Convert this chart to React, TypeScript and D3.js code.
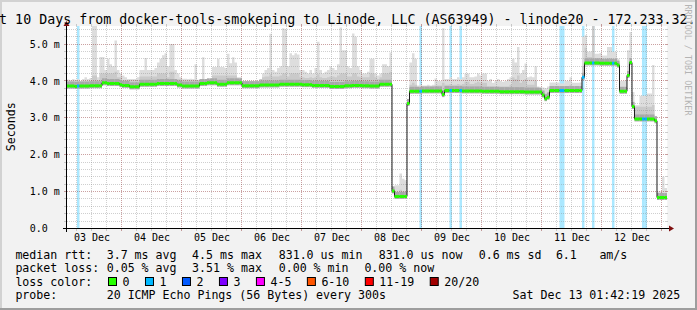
import React from "react";
import * as d3 from "d3";

// ---------- data ----------
const titleText = "t 10 Days from docker-tools-smokeping to Linode, LLC (AS63949) - linode20 - 172.233.32.";
const yAxisTitle = "Seconds";
const watermark = "RRDTOOL / TOBI OETIKER";

const startTime = Date.UTC(2025, 11, 3, 1, 42, 19);
const endTime = Date.UTC(2025, 11, 13, 1, 42, 19);
const firstBinTime = Date.UTC(2025, 11, 3, 0, 0, 0); // hourly bins

const dayLabels = ["03 Dec", "04 Dec", "05 Dec", "06 Dec", "07 Dec", "08 Dec", "09 Dec", "10 Dec", "11 Dec", "12 Dec"];
const yTickValues = [0, 1, 2, 3, 4, 5];
const yTickLabels = ["0.0", "1.0 m", "2.0 m", "3.0 m", "4.0 m", "5.0 m"];

// median RTT per hour (ms), one row per day
const medianMs = [
  3.86,3.86,3.86,3.86,3.86,3.85,3.86,3.86,3.86,3.86,3.86,3.87,3.87,3.87,3.87,3.87,3.95,3.95,3.93,3.93,3.93,3.93,3.93,3.90,
  3.88,3.88,3.88,3.84,3.84,3.84,3.84,3.91,3.91,3.91,3.91,3.91,3.91,3.91,3.93,3.93,3.93,3.93,3.93,3.93,3.93,3.93,3.89,3.89,
  3.86,3.86,3.86,3.86,3.86,3.86,3.86,3.93,3.93,3.93,3.95,3.95,3.95,3.95,3.91,3.91,3.91,3.91,3.95,3.95,3.95,3.95,3.95,3.95,
  3.87,3.87,3.87,3.87,3.87,3.87,3.87,3.89,3.89,3.89,3.89,3.89,3.89,3.89,3.89,3.91,3.91,3.91,3.91,3.91,3.91,3.91,3.91,3.91,
  3.90,3.90,3.90,3.90,3.88,3.88,3.88,3.88,3.88,3.88,3.88,3.85,3.85,3.85,3.85,3.85,3.85,3.87,3.87,3.87,3.88,3.88,3.88,3.88,
  3.87,3.87,3.87,3.86,3.86,3.86,3.86,3.91,3.91,3.91,3.91,3.91,1.02,0.87,0.87,0.87,0.87,0.87,3.39,3.72,3.72,3.72,3.72,3.72,
  3.73,3.73,3.73,3.73,3.73,3.73,3.73,3.73,3.63,3.74,3.74,3.74,3.74,3.74,3.74,3.74,3.73,3.73,3.73,3.73,3.73,3.73,3.73,3.73,
  3.72,3.72,3.72,3.72,3.72,3.72,3.72,3.71,3.71,3.71,3.71,3.71,3.71,3.71,3.71,3.71,3.71,3.70,3.70,3.70,3.70,3.70,3.70,3.70,
  3.62,3.52,3.56,3.74,3.74,3.74,3.74,3.74,3.74,3.74,3.74,3.74,3.74,3.74,3.74,3.74,4.10,4.49,4.49,4.49,4.49,4.49,4.49,4.48,
  4.48,4.48,4.48,4.48,4.48,4.48,4.43,3.72,3.72,3.72,4.15,4.50,3.31,2.97,2.97,2.97,2.97,2.97,2.97,2.97,2.97,2.92,0.84,0.84,
  0.84,0.84,
];

// upper edge of the dense (middle) smoke per hour (ms)
const smokeMidMs = [
  4.00,4.00,4.00,4.00,4.00,4.00,4.00,4.00,4.00,4.00,4.00,4.00,4.15,4.15,4.02,4.20,4.20,4.20,4.20,4.20,4.20,4.25,4.10,4.10,
  4.02,4.02,4.02,4.02,4.02,4.02,4.02,4.12,4.12,4.12,4.12,4.12,4.12,4.12,4.20,4.20,4.20,4.20,4.10,4.25,4.25,4.05,4.05,4.05,
  4.02,4.02,4.02,4.02,4.02,4.02,4.02,4.02,4.02,4.02,4.02,4.02,4.15,4.15,4.15,4.15,4.15,4.15,4.15,4.15,4.15,4.15,4.05,4.05,
  4.00,4.00,4.00,4.00,4.00,4.00,4.00,4.05,4.10,4.12,4.12,4.18,4.12,4.12,4.12,4.15,4.20,4.20,4.12,4.20,4.20,4.20,4.20,4.10,
  4.10,4.08,4.08,4.10,4.08,4.10,4.18,4.10,4.08,4.08,4.10,4.12,4.12,4.10,4.15,4.20,4.20,4.20,4.12,4.12,4.20,4.20,4.12,4.10,
  4.10,4.10,4.10,4.20,4.20,4.10,4.05,4.10,4.20,4.20,4.20,4.25,1.08,0.97,0.97,1.05,1.00,1.00,3.45,3.90,3.95,3.90,3.80,3.80,
  3.82,3.82,3.84,3.82,3.84,3.88,3.88,3.88,3.95,3.90,3.90,3.92,3.90,3.90,3.92,3.90,3.92,3.98,3.98,3.92,3.92,3.95,3.98,3.95,
  3.95,3.95,3.85,3.85,3.85,3.85,3.85,3.85,3.85,3.85,3.85,3.90,4.10,4.05,4.15,3.95,4.00,4.05,3.90,3.90,3.90,4.00,3.78,3.76,
  3.72,3.66,3.70,3.85,3.85,3.85,3.85,3.83,3.83,3.86,3.86,3.90,3.84,3.84,3.84,3.85,4.40,4.90,4.65,4.65,5.60,4.62,4.62,4.62,
  4.60,4.60,4.62,4.62,4.60,4.60,4.52,3.82,3.82,3.82,4.25,4.60,3.40,3.30,3.30,3.30,3.30,3.30,3.30,3.30,3.35,3.00,0.92,0.92,
  0.95,0.92,
];

// highest ping per hour (ms)
const smokeMaxMs = [
  4.04,4.04,4.04,4.02,4.05,4.03,4.05,4.00,4.05,4.10,4.05,4.08,5.60,5.60,4.10,4.65,4.65,4.30,4.60,4.45,4.40,5.10,4.30,4.20,
  4.15,4.10,4.05,4.05,4.05,4.05,4.10,4.30,4.30,4.62,4.30,4.30,4.30,4.35,4.50,4.60,4.70,4.75,4.40,5.00,5.00,4.30,4.20,4.10,
  4.06,4.06,4.05,4.06,4.05,4.45,4.03,4.03,4.64,4.03,4.04,4.05,4.38,4.38,4.60,4.38,4.38,4.35,4.74,4.48,4.64,4.50,4.10,4.10,
  3.98,3.98,3.98,3.99,3.98,3.98,3.98,4.05,4.20,4.30,4.35,5.28,4.30,4.25,4.35,4.40,5.43,5.40,4.40,4.75,4.70,4.75,4.72,4.30,
  4.30,4.25,4.20,4.30,4.20,4.35,5.06,4.30,4.20,4.25,4.30,4.40,4.35,4.30,4.45,5.45,4.83,4.83,4.40,4.35,5.29,5.20,4.40,4.30,
  4.20,4.20,4.25,4.60,4.60,4.20,4.15,4.20,4.45,4.45,4.40,4.77,1.13,1.17,1.17,1.49,1.35,1.31,3.50,4.50,4.75,4.60,3.88,3.90,
  3.88,3.88,3.90,3.88,3.90,4.07,4.00,4.00,5.43,4.05,4.05,4.10,4.05,4.05,4.10,4.05,4.10,4.20,4.20,4.10,4.10,4.12,4.20,4.15,
  4.20,4.20,4.00,4.05,3.95,4.00,4.05,4.00,3.98,4.00,4.05,4.10,4.60,4.50,4.92,4.20,4.30,4.47,4.10,4.12,4.10,4.40,3.85,3.80,
  3.82,3.80,3.85,3.96,3.96,3.96,3.96,3.93,3.93,4.00,4.00,4.10,3.95,3.95,3.95,3.96,5.20,5.24,4.79,4.80,5.60,4.74,4.74,4.76,
  4.69,4.69,4.92,4.92,4.79,4.79,4.60,4.00,4.00,4.02,4.83,5.33,3.70,3.34,3.34,3.60,3.60,3.60,3.66,3.66,4.43,3.05,1.00,1.00,
  1.40,1.10,
];

// hours (bin index) with lost pings, and how many were lost
const lossBins = [6, 143, 155, 159, 199, 200, 208, 212, 220, 232, 233];
const lossCounts = [1, 1, 1, 1, 1, 1, 1, 1, 1, 1, 1];

const lossLabels = ["0", "1", "2", "3", "4-5", "6-10", "11-19", "20/20"];
const lossColors = ["#26ff00", "#00b8ff", "#0059ff", "#7e00ff", "#ff00ff", "#ff5500", "#ff0000", "#a10000"];

const rttLabel = "median rtt:";
const rttItems = ["3.7 ms avg", "4.5 ms max", "831.0 us min", "831.0 us now", "0.6 ms sd", "6.1", "am/s"];
const lossLabel = "packet loss:";
const lossItems = ["0.05 % avg", "3.51 % max", "0.00 % min", "0.00 % now"];
const lossColorLabel = "loss color:";
const probeLabel = "probe:";
const probeText = "20 ICMP Echo Pings (56 Bytes) every 300s";
const stampText = "Sat Dec 13 01:42:19 2025";

// ---------- layout ----------
const W = 697, H = 310;
const X0 = 66.25, X1 = 666.25, YT = 26, YB = 228.5;
const MONO = "'DejaVu Sans Mono', monospace";
const LF = 11.6; // legend font px
const CW = LF * 0.602;
const rttX = [107.3, 192.7, 279.3, 379.3, 479.3, 556.5, 600];
const lossX = [107.3, 192.7, 279.3, 365];
const row = [258.5, 272, 285.5, 299];

const HOUR = 3600e3;
const binTime = (i: number) => firstBinTime + i * HOUR;
const lossColorFor = (n: number) => {
  if (n <= 0) return lossColors[0];
  if (n <= 3) return lossColors[n];
  if (n <= 5) return lossColors[4];
  if (n <= 10) return lossColors[5];
  if (n <= 19) return lossColors[6];
  return lossColors[7];
};

export default function App() {
  const x = d3.scaleUtc().domain([new Date(startTime), new Date(endTime)]).range([X0, X1]);
  const y = d3.scaleLinear().domain([0, 5.49]).range([YB, YT]);
  const px = (v: number) => Math.round(v - 0.5) + 0.5;

  type P = { t: number; m: number; mid: number; hi: number };
  const pts: P[] = medianMs.map((m, i) => ({ t: binTime(i), m, mid: smokeMidMs[i], hi: smokeMaxMs[i] }));
  const lastI = medianMs.length - 1;
  pts.push({ t: binTime(medianMs.length), m: medianMs[lastI], mid: smokeMidMs[lastI], hi: smokeMaxMs[lastI] });

  const hiArea = d3.area<P>().x(d => x(d.t)).y0(d => y(d.m)).y1(d => y(d.hi)).curve(d3.curveStepAfter)(pts) || "";
  const midArea = d3.area<P>().x(d => x(d.t)).y0(d => y(d.m)).y1(d => y(d.mid)).curve(d3.curveStepAfter)(pts) || "";
  const stepLine = d3.line<P>().x(d => x(d.t)).y(d => y(d.m)).curve(d3.curveStepAfter)(pts) || "";

  const lossMap = new Map<number, number>();
  lossBins.forEach((b, k) => lossMap.set(b, lossCounts[k]));

  const majorX = d3.utcDay.range(new Date(startTime), new Date(endTime));
  const minorX = d3.utcHour.every(6)!.range(new Date(startTime), new Date(endTime)).filter(d => d.getUTCHours() !== 0);
  const minorY = d3.range(1, 28).map(k => k * 0.2).filter(v => Math.abs(v - Math.round(v)) > 1e-6 && y(v) > YT);
  const majorY = [1, 2, 3, 4, 5];

  const gridMinor = "rgba(140,140,140,0.42)";
  const gridMajor = "rgba(130,30,30,0.42)";

  // loss legend layout
  const boxes: { x: number; label: string; color: string }[] = [];
  let bx = 108.5;
  lossLabels.forEach((lab, k) => {
    boxes.push({ x: bx, label: lab, color: lossColors[k] });
    bx = bx + 15 + lab.length * CW + 15;
  });

  return (
    <svg width={W} height={H} viewBox={`0 0 ${W} ${H}`}
      style={{ position: "absolute", left: 0, top: 0, display: "block" }}
      fontFamily={MONO}>
      <defs>
        <clipPath id="plotClip">
          <rect x={X0} y={YT} width={X1 - X0 + 1} height={YB - YT} />
        </clipPath>
      </defs>
      {/* background and 3D frame */}
      <rect x={0} y={0} width={W} height={H} fill="#f2f2f2" />
      <rect x={0} y={0} width={W} height={2} fill="#d2d2d2" />
      <rect x={0} y={0} width={2} height={H} fill="#d2d2d2" />
      <rect x={0} y={H - 2} width={W} height={2} fill="#9e9e9e" />
      <rect x={W - 2} y={0} width={2} height={H} fill="#9e9e9e" />

      {/* canvas */}
      <rect x={X0} y={YT} width={X1 - X0 + 1} height={YB - YT} fill="#ffffff" />

      <g clipPath="url(#plotClip)">
        {/* loss background bars */}
        {lossBins.map((b, k) => (
          <rect key={"lb" + k} x={x(binTime(b))} y={YT} width={x(binTime(b + 1)) - x(binTime(b))}
            height={YB - YT} fill={lossColorFor(lossCounts[k])} opacity={0.33} />
        ))}
        {/* smoke */}
        <path d={hiArea} fill="#dddddd" />
        <path d={midArea} fill="#cacaca" />
      </g>

      {/* grid */}
      <g strokeWidth={1} shapeRendering="crispEdges">
        {minorY.map((v, k) => {
          const yy = px(y(v));
          return (
            <g key={"my" + k}>
              <line x1={X0 + 1} x2={X1} y1={yy} y2={yy} stroke={gridMinor} strokeDasharray="1,1" />
              <line x1={X0 - 2.5} x2={X0} y1={yy} y2={yy} stroke={gridMinor} />
              <line x1={X1} x2={X1 + 2} y1={yy} y2={yy} stroke={gridMinor} />
            </g>
          );
        })}
        {minorX.map((d, k) => {
          const xx = px(x(d));
          return (
            <g key={"mx" + k}>
              <line x1={xx} x2={xx} y1={YT} y2={YB} stroke={gridMinor} strokeDasharray="1,1" />
              <line x1={xx} x2={xx} y1={YT - 2} y2={YT} stroke={gridMinor} />
              <line x1={xx} x2={xx} y1={YB} y2={YB + 2.5} stroke={gridMinor} />
            </g>
          );
        })}
        {majorY.map((v, k) => {
          const yy = px(y(v));
          return (
            <g key={"My" + k}>
              <line x1={X0 + 1} x2={X1} y1={yy} y2={yy} stroke={gridMajor} strokeDasharray="1,1" />
              <line x1={X0 - 2.5} x2={X0} y1={yy} y2={yy} stroke={gridMajor} />
              <line x1={X1} x2={X1 + 2} y1={yy} y2={yy} stroke={gridMajor} />
            </g>
          );
        })}
        {majorX.map((d, k) => {
          const xx = px(x(d));
          return (
            <g key={"Mx" + k}>
              <line x1={xx} x2={xx} y1={YT} y2={YB} stroke={gridMajor} strokeDasharray="1,1" />
              <line x1={xx} x2={xx} y1={YT - 2} y2={YT} stroke={gridMajor} />
              <line x1={xx} x2={xx} y1={YB} y2={YB + 2.5} stroke={gridMajor} />
            </g>
          );
        })}
      </g>

      <g clipPath="url(#plotClip)">
        {/* dense smoke around the median */}
        {medianMs.map((m, i) => (
          <rect key={"bd" + i} x={x(binTime(i))} y={y(m) - 4.5}
            width={x(binTime(i + 1)) - x(binTime(i))} height={7} fill="#a8a8a8" />
        ))}
        {/* thin median step line */}
        <path d={stepLine} fill="none" stroke="#1a1a1a" strokeWidth={1} />
        {/* median colored by loss */}
        {medianMs.map((m, i) => (
          <line key={"md" + i} x1={x(binTime(i))} x2={x(binTime(i + 1))} y1={y(m)} y2={y(m)}
            stroke={lossColorFor(lossMap.get(i) || 0)} strokeWidth={3} />
        ))}
      </g>

      {/* axes */}
      <line x1={63} x2={669.5} y1={YB} y2={YB} stroke="#000" strokeWidth={1} shapeRendering="crispEdges" />
      <line x1={66.5} x2={66.5} y1={231.5} y2={25} stroke="#000" strokeWidth={1} shapeRendering="crispEdges" />
      <polygon points={`669,225.5 674,228.5 669,231.5`} fill="#7f1010" />
      <polygon points={`63.5,26 66.5,21 69.5,26`} fill="#7f1010" />

      {/* y tick labels */}
      {yTickValues.map((v, k) => (
        <text key={"yl" + k} x={29.7} y={y(v) + 3.6} fontSize={10} fill="#000">{yTickLabels[k]}</text>
      ))}
      {/* x tick labels, centered at noon */}
      {dayLabels.map((lab, k) => (
        <text key={"xl" + k} x={x(new Date(Date.UTC(2025, 11, 3 + k, 12)))} y={240.6} fontSize={10}
          textAnchor="middle" fill="#000">{lab}</text>
      ))}

      {/* title */}
      <text x={-0.9} y={23.5} fontSize={13.3} fill="#000" style={{ whiteSpace: "pre" }}>{titleText}</text>
      {/* y axis title */}
      <text transform="translate(15,126.7) rotate(-90)" fontSize={LF} textAnchor="middle" fill="#000">{yAxisTitle}</text>
      {/* watermark */}
      <text transform="translate(685.3,4.5) rotate(90)" fontSize={8.4} fill="#b4b4b4">{watermark}</text>

      {/* legend */}
      <g fontSize={LF} fill="#000" style={{ whiteSpace: "pre" }}>
        <text x={15.4} y={row[0]}>{rttLabel}</text>
        {rttItems.map((s, k) => <text key={"r" + k} x={rttX[k] - 0.6} y={row[0]}>{s}</text>)}
        <text x={15.4} y={row[1]}>{lossLabel}</text>
        {lossItems.map((s, k) => <text key={"l" + k} x={lossX[k] - 0.6} y={row[1]}>{s}</text>)}
        <text x={15.4} y={row[2]}>{lossColorLabel}</text>
        {boxes.map((b, k) => (
          <g key={"bx" + k}>
            <rect x={b.x} y={277.5} width={8} height={8} fill={b.color} stroke="#000" strokeWidth={1} />
            <text x={b.x + 14} y={row[2]}>{b.label}</text>
          </g>
        ))}
        <text x={15.4} y={row[3]}>{probeLabel}</text>
        <text x={106.7} y={row[3]}>{probeText}</text>
        <text x={512.6} y={row[3]}>{stampText}</text>
      </g>
    </svg>
  );
}
